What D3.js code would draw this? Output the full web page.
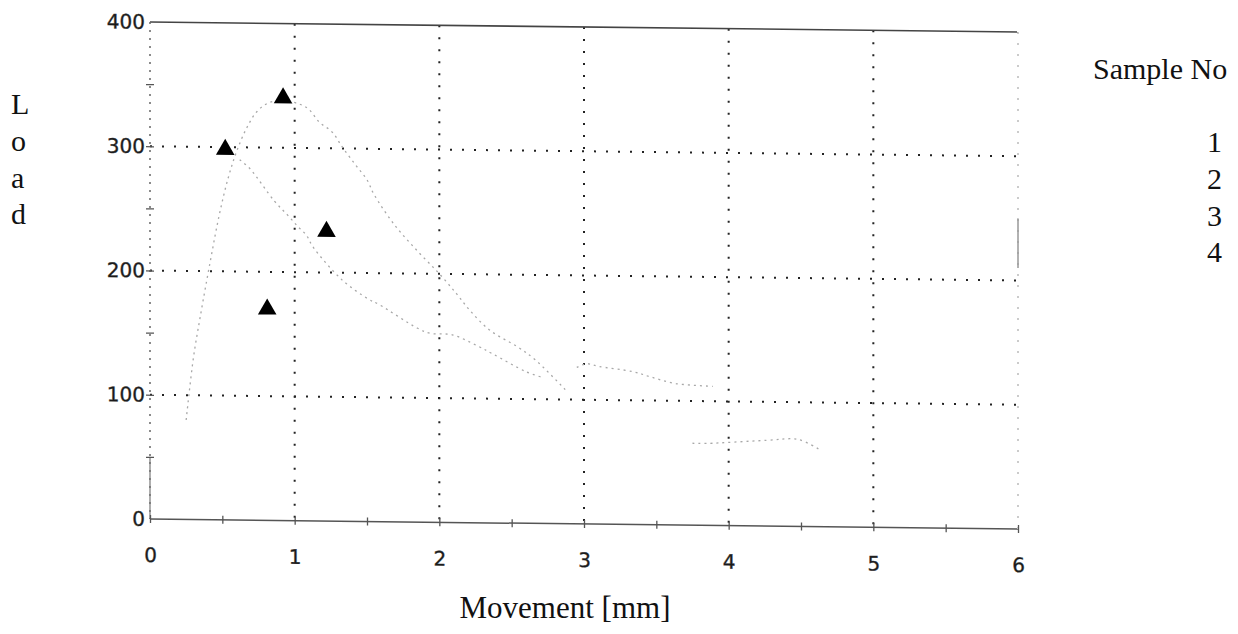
<!DOCTYPE html>
<html>
<head>
<meta charset="utf-8">
<script src="https://cdn.jsdelivr.net/npm/d3@7"></script>
<style>
  body { margin: 0; background: #fff; }
  .tick text { font-family: "DejaVu Sans", sans-serif; fill: #1a1a1a; stroke: #333; stroke-width: 0.4; }
  .serif { font-family: "Liberation Serif", "Times New Roman", serif; fill: #111; }
  .grid { stroke: #222; stroke-width: 2; stroke-dasharray: 2,10; }
  .curve { fill: none; stroke: #a8a8a8; stroke-width: 1.3; stroke-dasharray: 2,4; }
</style>
</head>
<body>
<svg width="1238" height="634"></svg>
<script>
// tick labels
const xTicks = [0, 1, 2, 3, 4, 5, 6];
const yTicks = [0, 100, 200, 300, 400];
const xMinor = [0, 0.5, 1, 1.5, 2, 2.5, 3, 3.5, 4, 4.5, 5, 5.5, 6];
const yMinor = [50, 100, 150, 200, 250, 300, 350];
const sampleNos = ['1', '2', '3', '4'];

// curves, [movement mm, load]
const sample1 = [[0.25,80],[0.3,130],[0.35,165],[0.42,210],[0.48,246],[0.54,275],[0.6,297],[0.67,316],
  [0.74,329],[0.82,336],[0.92,338],[1.04,335],[1.1,331],[1.17,321],[1.26,313],[1.33,301],[1.42,287],
  [1.5,275],[1.55,263],[1.69,239],[1.85,218],[2.0,200],[2.12,184],[2.21,171],[2.35,155],[2.54,142],
  [2.66,132],[2.87,108]];
const sample2 = [[0.62,290],[0.69,283],[0.86,257],[0.95,246],[1.02,237],[1.08,230],[1.13,220],[1.33,194],
  [1.51,179],[1.58,175],[1.85,156],[1.94,152],[2.09,151],[2.27,142],[2.37,136],[2.6,122],[2.7,118]];
const sample3 = [[2.95,126],[3.02,129],[3.1,127],[3.34,123],[3.46,119],[3.63,114],[3.89,112]];
const sample4 = [[3.75,66],[3.85,66],[4.26,69],[4.48,70],[4.63,62]];

// peak markers (triangles)
const peakX = [0.92, 0.52, 1.22, 0.81];
const peakY = [340, 298, 233, 170];

const svg = d3.select('svg');
const x = d3.scaleLinear().domain([0, 6]).range([150, 1018]);
const y = d3.scaleLinear().domain([0, 400]).range([519, 22]);

// the scan is a bit skewed, lines fall to the right
const g = svg.append('g')
  .attr('transform', 'translate(150,0) skewY(0.66) translate(-150,0)');

// dotted grid
g.append('g').selectAll('line').data(xTicks.slice(1, 6)).enter()
  .append('line').attr('class', 'grid')
  .attr('x1', d => x(d)).attr('x2', d => x(d))
  .attr('y1', y(400)).attr('y2', y(0));
g.append('g').selectAll('line').data(yTicks.slice(1, 4)).enter()
  .append('line').attr('class', 'grid')
  .attr('x1', x(0)).attr('x2', x(6))
  .attr('y1', d => y(d)).attr('y2', d => y(d));

// frame
g.append('line').attr('x1', x(0)).attr('x2', x(6)).attr('y1', y(400)).attr('y2', y(400))
  .attr('stroke', '#444').attr('stroke-width', 1.6);
g.append('line').attr('x1', x(0)).attr('x2', x(6)).attr('y1', y(0)).attr('y2', y(0))
  .attr('stroke', '#555').attr('stroke-width', 1.5);
g.append('line').attr('x1', x(0)).attr('x2', x(0)).attr('y1', y(400)).attr('y2', y(0))
  .attr('stroke', '#666').attr('stroke-width', 1.5).attr('stroke-dasharray', '2,6');
g.append('line').attr('x1', x(0)).attr('x2', x(0)).attr('y1', y(50)).attr('y2', y(0))
  .attr('stroke', '#777').attr('stroke-width', 1.2);
g.append('line').attr('x1', x(6)).attr('x2', x(6)).attr('y1', y(400)).attr('y2', y(0))
  .attr('stroke', '#bbb').attr('stroke-width', 1.5).attr('stroke-dasharray', '2,9');
g.append('line').attr('x1', x(6)).attr('x2', x(6)).attr('y1', y(250)).attr('y2', y(210))
  .attr('stroke', '#999').attr('stroke-width', 1.5);

// minor "+" ticks on the axes
g.append('g').attr('transform', `translate(0,${y(0) - 4})`)
  .call(d3.axisBottom(x).tickValues(xMinor).tickSize(8).tickFormat(''))
  .call(a => a.select('.domain').remove())
  .call(a => a.selectAll('line').attr('stroke', '#555').attr('stroke-width', 1.3));
g.append('g').attr('transform', `translate(${x(0) - 4},0)`)
  .call(d3.axisRight(y).tickValues(yMinor).tickSize(8).tickFormat(''))
  .call(a => a.select('.domain').remove())
  .call(a => a.selectAll('line').attr('stroke', '#555').attr('stroke-width', 1.3));

// tick labels
g.append('g').attr('transform', `translate(0,${y(0)})`)
  .call(d3.axisBottom(x).tickValues(xTicks).tickSize(0).tickPadding(29).tickFormat(d3.format('d')))
  .call(a => a.select('.domain').remove())
  .call(a => a.selectAll('text').attr('font-size', 20));
g.append('g').attr('transform', `translate(${x(0)},0)`)
  .call(d3.axisLeft(y).tickValues(yTicks).tickSize(0).tickPadding(5).tickFormat(d3.format('d')))
  .call(a => a.select('.domain').remove())
  .call(a => a.selectAll('text').attr('font-size', 20));

// curves
const line = d3.line().x(d => x(d[0])).y(d => y(d[1])).curve(d3.curveCatmullRom);
[sample1, sample2, sample3, sample4].forEach(s => {
  g.append('path').attr('class', 'curve').attr('d', line(s));
});

// triangles at the peaks
g.append('g').selectAll('path').data(peakX).enter()
  .append('path')
  .attr('d', d3.symbol(d3.symbolTriangle, 150))
  .attr('transform', (d, i) => `translate(${x(d)},${y(peakY[i])})`)
  .attr('fill', '#000');

// axis titles
const load = svg.append('text').attr('class', 'serif').attr('font-size', 30);
['L', 'o', 'a', 'd'].forEach((c, i) => {
  load.append('tspan').attr('x', 11).attr('y', 114 + i * 36.8).text(c);
});
svg.append('text').attr('class', 'serif').attr('font-size', 31)
  .attr('x', 565).attr('y', 618).attr('text-anchor', 'middle')
  .text('Movement [mm]');

// legend
svg.append('text').attr('class', 'serif').attr('font-size', 30)
  .attr('x', 1093).attr('y', 79).text('Sample No');
svg.append('g').selectAll('text').data(sampleNos).enter()
  .append('text').attr('class', 'serif').attr('font-size', 30)
  .attr('x', 1222).attr('text-anchor', 'end')
  .attr('y', (d, i) => 152 + i * 36.8)
  .text(d => d);
</script>
</body>
</html>
